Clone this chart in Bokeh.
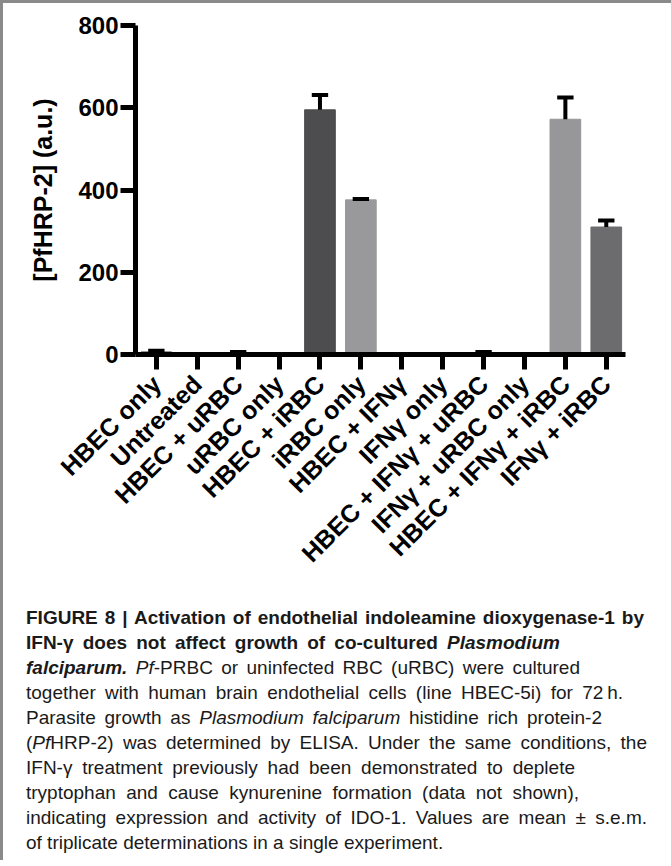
import math
from bokeh.plotting import figure
from bokeh.models import Range1d, FixedTicker, Div, ColumnDataSource
from bokeh.layouts import column
from bokeh.embed import file_html
from bokeh.resources import INLINE

categories = ["HBEC only", "Untreated", "HBEC + uRBC", "uRBC only", "HBEC + iRBC",
              "iRBC only", "HBEC + IFNγ", "IFNγ only", "HBEC + IFNγ + uRBC",
              "IFNγ + uRBC only", "HBEC + IFNγ + iRBC", "IFNγ + iRBC"]
means = [6, 0, 4, 0, 595, 376, 0, 0, 4, 0, 572, 310]
sems = [3, 0, 2, 0, 36, 2, 0, 0, 2, 0, 53, 16]
bar_colors = ["#1e1e1e", "#1e1e1e", "#1e1e1e", "#1e1e1e", "#4d4d4f", "#99999b",
              "#1e1e1e", "#1e1e1e", "#1e1e1e", "#1e1e1e", "#97979a", "#6c6c6e"]
y_ticks = [0, 200, 400, 600, 800]
y_label = "[PfHRP-2] (a.u.)"

FONT = "Liberation Sans"
CAP_FONT = "'Liberation Sans Narrow', 'Liberation Sans', sans-serif"

xs = list(range(len(categories)))
src = ColumnDataSource(dict(x=xs, top=means, color=bar_colors))

p = figure(width=658, height=596, output_backend="svg", toolbar_location=None,
           x_range=Range1d(-0.51, 11.47), y_range=Range1d(0, 800),
           min_border_left=132, min_border_right=36, min_border_top=22,
           min_border_bottom=245)
p.outline_line_color = None
p.xgrid.grid_line_color = None
p.ygrid.grid_line_color = None
p.background_fill_color = "white"
p.border_fill_color = "white"

p.vbar(x="x", top="top", width=0.75, color="color", source=src)

ex = [x for x, s in zip(xs, sems) if s > 0]
elo = [m for m, s in zip(means, sems) if s > 0]
ehi = [m + s for m, s in zip(means, sems) if s > 0]
p.segment(x0=ex, y0=elo, x1=ex, y1=ehi, line_width=4, line_color="black")
p.segment(x0=[x - 0.2 for x in ex], y0=ehi, x1=[x + 0.2 for x in ex], y1=ehi,
          line_width=4, line_color="black")

# y axis
ya = p.yaxis[0]
ya.ticker = FixedTicker(ticks=y_ticks)
ya.axis_line_width = 5
ya.major_tick_line_width = 5
ya.major_tick_out = 15
ya.major_tick_in = 0
ya.minor_tick_line_color = None
ya.major_label_text_font = FONT
ya.major_label_text_font_style = "bold"
ya.major_label_text_font_size = "24px"
ya.major_label_text_color = "black"
ya.major_label_standoff = 2
ya.axis_label = y_label
ya.axis_label_text_font = FONT
ya.axis_label_text_font_style = "bold"
ya.axis_label_text_font_size = "25px"
ya.axis_label_text_color = "black"
ya.axis_label_standoff = 18

# x axis
xa = p.xaxis[0]
xa.ticker = FixedTicker(ticks=xs)
xa.major_label_overrides = {i: c for i, c in zip(xs, categories)}
xa.major_label_orientation = math.pi / 4
xa.axis_line_width = 5
xa.major_tick_line_width = 5
xa.major_tick_out = 15
xa.major_tick_in = 0
xa.minor_tick_line_color = None
xa.major_label_text_font = FONT
xa.major_label_text_font_style = "bold"
xa.major_label_text_font_size = "25px"
xa.major_label_text_color = "black"
xa.major_label_standoff = 10

caption_lines = [
    (618, '<b>FIGURE 8 | Activation of endothelial indoleamine dioxygenase-1 by</b>'),
    (534, '<b>IFN-γ does not affect growth of co-cultured <i>Plasmodium</i></b>'),
    (554, '<b><i>falciparum.</i></b> <i>Pf</i>-PRBC or uninfected RBC (uRBC) were cultured'),
    (597, 'together with human brain endothelial cells (line HBEC-5i) for 72&#8201;h.'),
    (576, 'Parasite growth as <i>Plasmodium falciparum</i> histidine rich protein-2'),
    (621, '(<i>Pf</i>HRP-2) was determined by ELISA. Under the same conditions, the'),
    (549, 'IFN-γ treatment previously had been demonstrated to deplete'),
    (553, 'tryptophan and cause kynurenine formation (data not shown),'),
    (621, 'indicating expression and activity of IDO-1. Values are mean ± s.e.m.'),
    (415, 'of triplicate determinations in a single experiment.'),
]
parts = []
for w, t in caption_lines:
    parts.append(f'<div style="width:{w}px;white-space:nowrap;text-align:justify;'
                 f'text-align-last:justify;">{t}</div>')
html = (f'<div style="font-family:{CAP_FONT};font-size:19px;line-height:25px;'
        f'color:#1a1a1a;padding:1px 0 0 18px;">' + "".join(parts) + '</div>')
cap = Div(text=html, width=658)

layout = column(p, cap, spacing=0,
                styles={"border-top": "3px solid #8a8a8a",
                        "border-left": "3px solid #8a8a8a",
                        "border-right": "2px solid #111111",
                        "background-color": "white"})

open("out.html", "w").write(file_html(layout, INLINE))
